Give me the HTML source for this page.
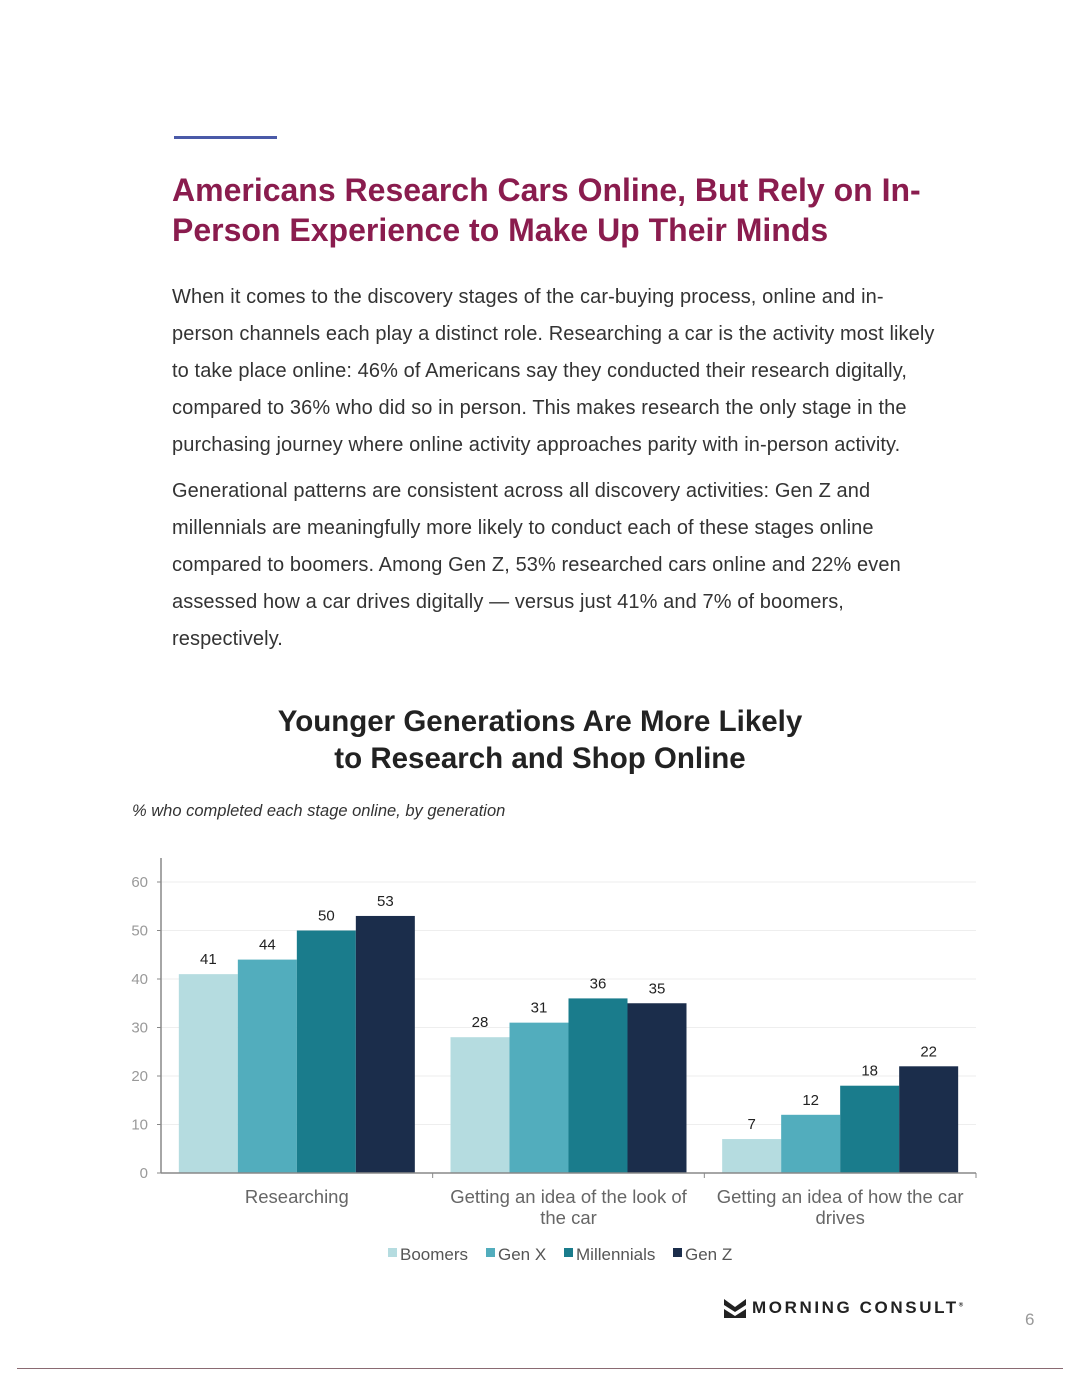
<!DOCTYPE html>
<html><head><meta charset="utf-8"><style>
body{margin:0;width:1080px;height:1387px;background:#fff;font-family:"Liberation Sans",sans-serif;position:relative;overflow:hidden}
.abs{position:absolute}
.p{left:172px;width:820px;font-size:20px;letter-spacing:0.1px;line-height:37px;color:#333;margin:0}
</style></head><body>
<div class="abs" style="left:174px;top:136px;width:103px;height:3px;background:#4a5aa8"></div>
<h1 class="abs" style="left:172px;top:170px;margin:0;font-size:32px;line-height:40px;color:#8a1c4e;font-weight:bold;width:800px">Americans Research Cars Online, But Rely on In-<br>Person Experience to Make Up Their Minds</h1>
<p class="abs p" style="top:279px">When it comes to the discovery stages of the car-buying process, online and in-<br>person channels each play a distinct role. Researching a car is the activity most likely<br>to take place online: 46% of Americans say they conducted their research digitally,<br>compared to 36% who did so in person. This makes research the only stage in the<br>purchasing journey where online activity approaches parity with in-person activity.</p>
<p class="abs p" style="top:473px">Generational patterns are consistent across all discovery activities: Gen Z and<br>millennials are meaningfully more likely to conduct each of these stages online<br>compared to boomers. Among Gen Z, 53% researched cars online and 22% even<br>assessed how a car drives digitally — versus just 41% and 7% of boomers,<br>respectively.</p>
<div class="abs" style="left:0;width:1080px;top:703px;text-align:center;font-size:29.5px;line-height:37px;font-weight:bold;color:#222">Younger Generations Are More Likely<br>to Research and Shop Online</div>
<div class="abs" style="left:132px;top:802px;font-size:16.5px;font-style:italic;color:#333">% who completed each stage online, by generation</div>
<svg class="abs" style="left:0;top:0" width="1080" height="1387" id="chart"></svg>
<svg class="abs" style="left:724px;top:1299px" width="22" height="19"><path d="M0 0 L11 8 L22 0 L22 6 L11 13 L0 6 Z M0 10 L11 17 L22 10 L22 19 L0 19 Z" fill="#222"/></svg>
<div class="abs" style="left:752px;top:1298px;font-size:17px;font-weight:bold;letter-spacing:2.6px;color:#222">MORNING CONSULT<sup style="font-size:6px">®</sup></div>
<div class="abs" style="left:1025px;top:1310px;font-size:17px;color:#999">6</div>
<div class="abs" style="left:17px;top:1368px;width:1046px;height:1px;background:#8a6a72"></div>
<script>
const categories=[["Researching"],["Getting an idea of the look of","the car"],["Getting an idea of how the car","drives"]];
const seriesNames=["Boomers","Gen X","Millennials","Gen Z"];
const boomers=[41,28,7];
const genX=[44,31,12];
const millennials=[50,36,18];
const genZ=[53,35,22];
const yTicks=[0,10,20,30,40,50,60];
const colors=["#b5dce0","#52adbd","#1a7c8c","#1b2d4b"];
const series=[boomers,genX,millennials,genZ];
const svg=document.getElementById('chart');const NS="http://www.w3.org/2000/svg";
const x0=161,x1=976,yb=1173,yt=882,ymax=60;
const y=v=>yb-(v/ymax)*(yb-yt);
const gw=(x1-x0)/categories.length,bw=59,pad=(gw-bw*4)/2;
function el(t,a,txt){const e=document.createElementNS(NS,t);for(const k in a)e.setAttribute(k,a[k]);if(txt!=null)e.textContent=txt;svg.appendChild(e);return e;}
yTicks.forEach(t=>{
 if(t>0){const g=el('line',{x1:x0,x2:x1,y1:y(t),y2:y(t),stroke:'#eee'});}
 const tk=el('line',{x1:x0-4,x2:x0,y1:y(t),y2:y(t),stroke:'#888'});
 const l=el('text',{x:x0-13,y:y(t)+5,'text-anchor':'end','font-size':15,fill:'#999','font-family':'Liberation Sans'},t);
 
});
const ya=el('line',{x1:x0,x2:x0,y1:858,y2:yb,stroke:'#888','stroke-width':1.5});
categories.forEach((c,i)=>{
 series.forEach((s,j)=>{
  const bx=x0+gw*i+pad+bw*j;
  const r=el('rect',{x:bx,y:y(s[i]),width:bw,height:yb-y(s[i]),fill:colors[j]});
  
  const t=el('text',{x:bx+bw/2,y:y(s[i])-10,'text-anchor':'middle','font-size':15,fill:'#222','font-family':'Liberation Sans'},s[i]);
  
 });
 c.forEach((ln,k)=>{const t=el('text',{x:x0+gw*(i+0.5),y:1203+k*21,'text-anchor':'middle','font-size':18.5,fill:'#666','font-family':'Liberation Sans'},ln);
 });
 const tk=el('line',{x1:x0+gw*(i+1),x2:x0+gw*(i+1),y1:yb,y2:yb+5,stroke:'#888'});
});
const xa=el('line',{x1:x0,x2:x1,y1:yb,y2:yb,stroke:'#888','stroke-width':1.5});
const lx=[388,486,564,673];
seriesNames.forEach((n,j)=>{
 const r=el('rect',{x:lx[j],y:1248,width:9,height:9,fill:colors[j]});
 const t=el('text',{x:lx[j]+12,y:1260,'font-size':17,fill:'#555','font-family':'Liberation Sans'},n);
});
</script>
</body></html>
